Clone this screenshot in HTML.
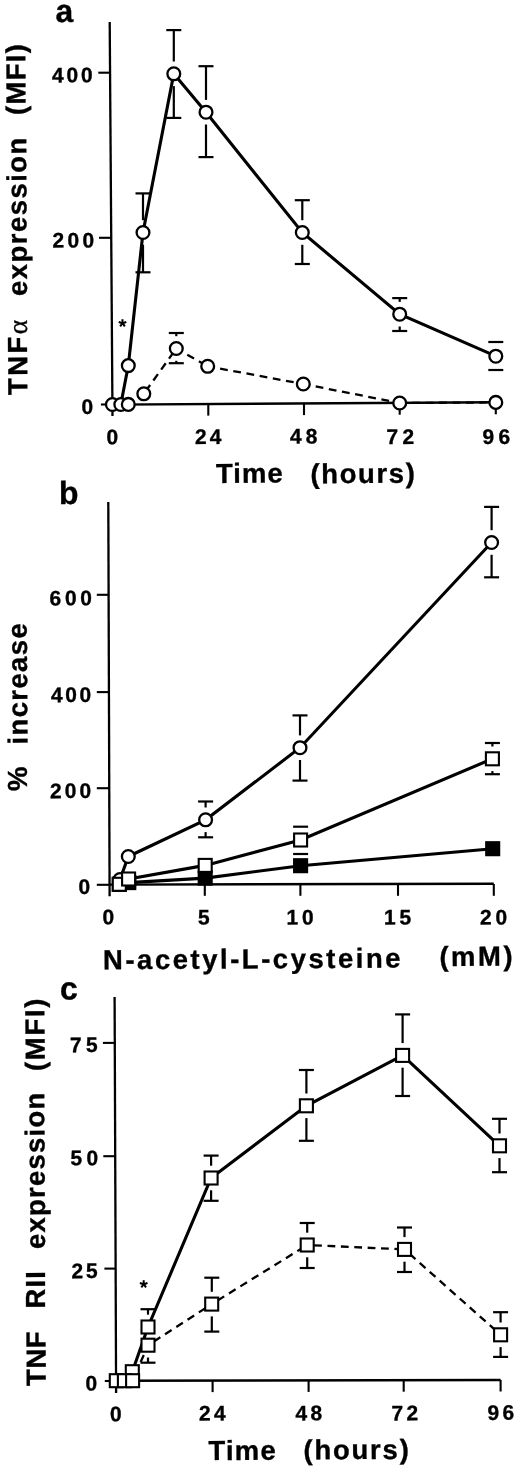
<!DOCTYPE html>
<html><head><meta charset="utf-8"><style>
html,body{margin:0;padding:0;background:#fff;}
svg{display:block;filter:grayscale(1);}
text{font-family:"Liberation Sans", sans-serif;fill:#000;stroke:#000;stroke-width:0.35px;}
</style></head><body>
<svg width="520" height="1472" viewBox="0 0 520 1472">
<rect width="520" height="1472" fill="#fff"/>
<g stroke="#000" stroke-linecap="butt" fill="none">
<text id="La" transform="translate(55.50 22.10) rotate(-0.35)" font-size="32" font-weight="bold">a</text>
<line x1="109.7" y1="22" x2="112.5" y2="416" stroke-width="2.3"/>
<line x1="112" y1="404.6" x2="496" y2="402.3" stroke-width="2.4"/>
<line x1="98.3" y1="72.7" x2="111" y2="72.7" stroke-width="2.1"/>
<line x1="99.0" y1="237.8" x2="111" y2="237.8" stroke-width="2.1"/>
<line x1="100.9" y1="404.5" x2="111" y2="404.5" stroke-width="2.1"/>
<line x1="208.3" y1="403.6" x2="208.3" y2="415.6" stroke-width="2.1"/>
<line x1="304" y1="403.1" x2="304" y2="415.1" stroke-width="2.1"/>
<line x1="399.7" y1="402.7" x2="399.7" y2="414.7" stroke-width="2.1"/>
<line x1="495.8" y1="402.3" x2="495.8" y2="414.3" stroke-width="2.1"/>
<line x1="143" y1="193.4" x2="143" y2="220.2" stroke-width="2.2"/>
<line x1="135.5" y1="193.4" x2="150.5" y2="193.4" stroke-width="2.2"/>
<line x1="143" y1="244.8" x2="143" y2="272.3" stroke-width="2.2"/>
<line x1="135.5" y1="272.3" x2="150.5" y2="272.3" stroke-width="2.2"/>
<line x1="173.8" y1="30.1" x2="173.8" y2="61.5" stroke-width="2.2"/>
<line x1="166.3" y1="30.1" x2="181.3" y2="30.1" stroke-width="2.2"/>
<line x1="173.8" y1="86.1" x2="173.8" y2="117.9" stroke-width="2.2"/>
<line x1="166.3" y1="117.9" x2="181.3" y2="117.9" stroke-width="2.2"/>
<line x1="206" y1="66.2" x2="206" y2="99.9" stroke-width="2.2"/>
<line x1="198.5" y1="66.2" x2="213.5" y2="66.2" stroke-width="2.2"/>
<line x1="206" y1="124.5" x2="206" y2="157.1" stroke-width="2.2"/>
<line x1="198.5" y1="157.1" x2="213.5" y2="157.1" stroke-width="2.2"/>
<line x1="302.3" y1="200.2" x2="302.3" y2="220.2" stroke-width="2.2"/>
<line x1="294.8" y1="200.2" x2="309.8" y2="200.2" stroke-width="2.2"/>
<line x1="302.3" y1="244.8" x2="302.3" y2="264" stroke-width="2.2"/>
<line x1="294.8" y1="264" x2="309.8" y2="264" stroke-width="2.2"/>
<line x1="399.7" y1="298.1" x2="399.7" y2="301.9" stroke-width="2.2"/>
<line x1="392.2" y1="298.1" x2="407.2" y2="298.1" stroke-width="2.2"/>
<line x1="399.7" y1="326.5" x2="399.7" y2="331" stroke-width="2.2"/>
<line x1="392.2" y1="331" x2="407.2" y2="331" stroke-width="2.2"/>
<line x1="488.3" y1="342" x2="503.3" y2="342" stroke-width="2.2"/>
<line x1="488.3" y1="370" x2="503.3" y2="370" stroke-width="2.2"/>
<line x1="176.3" y1="333" x2="176.3" y2="336.2" stroke-width="2.2"/>
<line x1="168.8" y1="333" x2="183.8" y2="333" stroke-width="2.2"/>
<line x1="176.3" y1="360.8" x2="176.3" y2="363.2" stroke-width="2.2"/>
<line x1="168.8" y1="363.2" x2="183.8" y2="363.2" stroke-width="2.2"/>
<line x1="143.8" y1="393.8" x2="176.3" y2="348.5" stroke-width="2.3" stroke-dasharray="7.8 5.6" stroke-dashoffset="10.4"/>
<line x1="176.3" y1="348.5" x2="207.7" y2="366.3" stroke-width="2.3" stroke-dasharray="7.8 5.6" stroke-dashoffset="0.8"/>
<line x1="207.7" y1="366.3" x2="303.3" y2="384" stroke-width="2.3" stroke-dasharray="7.8 5.6" stroke-dashoffset="0.8"/>
<line x1="303.3" y1="384" x2="399.7" y2="403" stroke-width="2.3" stroke-dasharray="7.8 5.6" stroke-dashoffset="0.8"/>
<line x1="399.7" y1="403" x2="495.8" y2="402.4" stroke-width="2.3" stroke-dasharray="7.8 5.6" stroke-dashoffset="0.8"/>
<polyline points="112.4,404.5 120.8,404.5 128.3,365.6 143,232.5 173.8,73.8 206,112.2 302.3,232.5 399.7,314.2 495.8,356.2" fill="none" stroke-width="3.1"/>
<circle cx="112.4" cy="404.5" r="6.4" fill="#fff" stroke-width="2.3"/>
<circle cx="120.8" cy="404.5" r="6.4" fill="#fff" stroke-width="2.3"/>
<circle cx="128.3" cy="404.4" r="6.4" fill="#fff" stroke-width="2.3"/>
<circle cx="143.8" cy="393.8" r="6.4" fill="#fff" stroke-width="2.3"/>
<circle cx="176.3" cy="348.5" r="6.4" fill="#fff" stroke-width="2.3"/>
<circle cx="207.7" cy="366.3" r="6.4" fill="#fff" stroke-width="2.3"/>
<circle cx="303.3" cy="384" r="6.4" fill="#fff" stroke-width="2.3"/>
<circle cx="399.7" cy="403" r="6.4" fill="#fff" stroke-width="2.3"/>
<circle cx="495.8" cy="402.4" r="6.4" fill="#fff" stroke-width="2.3"/>
<circle cx="128.3" cy="365.6" r="6.4" fill="#fff" stroke-width="2.3"/>
<circle cx="143" cy="232.5" r="6.4" fill="#fff" stroke-width="2.3"/>
<circle cx="173.8" cy="73.8" r="6.4" fill="#fff" stroke-width="2.3"/>
<circle cx="206" cy="112.2" r="6.4" fill="#fff" stroke-width="2.3"/>
<circle cx="302.3" cy="232.5" r="6.4" fill="#fff" stroke-width="2.3"/>
<circle cx="399.7" cy="314.2" r="6.4" fill="#fff" stroke-width="2.3"/>
<circle cx="495.8" cy="356.2" r="6.4" fill="#fff" stroke-width="2.3"/>
<line x1="122.5" y1="323.2" x2="122.5" y2="319.2" stroke-width="2.0"/>
<line x1="122.5" y1="323.2" x2="126.3" y2="321.96" stroke-width="2.0"/>
<line x1="122.5" y1="323.2" x2="124.85" y2="326.44" stroke-width="2.0"/>
<line x1="122.5" y1="323.2" x2="120.15" y2="326.44" stroke-width="2.0"/>
<line x1="122.5" y1="323.2" x2="118.7" y2="321.96" stroke-width="2.0"/>
<text id="a400" transform="translate(52.00 82.40) rotate(-0.35)" font-size="21" font-weight="bold" letter-spacing="2.800">400</text>
<text id="a200" transform="translate(52.50 247.60) rotate(-0.35)" font-size="21" font-weight="bold" letter-spacing="3.300">200</text>
<text id="ay0" transform="translate(81.50 414.10) rotate(-0.35)" font-size="21" font-weight="bold">0</text>
<text id="ax0" transform="translate(106.50 444.20) rotate(-0.35)" font-size="21" font-weight="bold">0</text>
<text id="ax24" transform="translate(195.00 444.10) rotate(-0.35)" font-size="21" font-weight="bold" letter-spacing="3.000">24</text>
<text id="ax48" transform="translate(290.00 443.60) rotate(-0.35)" font-size="21" font-weight="bold" letter-spacing="4.000">48</text>
<text id="ax72" transform="translate(386.50 444.00) rotate(-0.35)" font-size="21" font-weight="bold" letter-spacing="4.400">72</text>
<text id="ax96" transform="translate(482.50 444.00) rotate(-0.35)" font-size="21" font-weight="bold" letter-spacing="4.200">96</text>
<text id="aTime" transform="translate(216.00 482.90) rotate(-0.35)" font-size="27.5" font-weight="bold" letter-spacing="1.000">Time</text>
<text id="ahours" transform="translate(310.50 483.20) rotate(-0.35)" font-size="27.5" font-weight="bold" letter-spacing="1.600">(hours)</text>
<text id="aTNF" transform="translate(27.30 395.00) rotate(-90.35)" font-size="27.5" font-weight="bold" letter-spacing="2.401">TNF<tspan font-family="Liberation Serif" font-weight="normal">α</tspan></text>
<text id="aexp" transform="translate(27.00 296.00) rotate(-90.35)" font-size="27.5" font-weight="bold" letter-spacing="1.467">expression</text>
<text id="aMFI" transform="translate(25.60 115.00) rotate(-90.35)" font-size="27.5" font-weight="bold" letter-spacing="1.300">(MFI)</text>
<text id="Lb" transform="translate(59.00 504.00) rotate(-0.35)" font-size="32" font-weight="bold">b</text>
<line x1="108.3" y1="502.1" x2="109.6" y2="896.2" stroke-width="2.3"/>
<line x1="109" y1="884.6" x2="493.8" y2="883.8" stroke-width="2.4"/>
<line x1="96.8" y1="594.8" x2="109" y2="594.8" stroke-width="2.1"/>
<line x1="96.8" y1="692.1" x2="109" y2="692.1" stroke-width="2.1"/>
<line x1="96.8" y1="788.2" x2="109" y2="788.2" stroke-width="2.1"/>
<line x1="96.8" y1="884.8" x2="109" y2="884.8" stroke-width="2.1"/>
<line x1="204.8" y1="884" x2="204.8" y2="895.8" stroke-width="2.1"/>
<line x1="300.4" y1="884" x2="300.4" y2="895.8" stroke-width="2.1"/>
<line x1="398" y1="884" x2="398" y2="895.8" stroke-width="2.1"/>
<line x1="493.8" y1="884" x2="493.8" y2="895.8" stroke-width="2.1"/>
<line x1="205.6" y1="801.5" x2="205.6" y2="807.5" stroke-width="2.2"/>
<line x1="198.1" y1="801.5" x2="213.1" y2="801.5" stroke-width="2.2"/>
<line x1="205.6" y1="832.1" x2="205.6" y2="837.3" stroke-width="2.2"/>
<line x1="198.1" y1="837.3" x2="213.1" y2="837.3" stroke-width="2.2"/>
<line x1="300" y1="715.4" x2="300" y2="735.4" stroke-width="2.2"/>
<line x1="292.5" y1="715.4" x2="307.5" y2="715.4" stroke-width="2.2"/>
<line x1="300" y1="760.0" x2="300" y2="780.6" stroke-width="2.2"/>
<line x1="292.5" y1="780.6" x2="307.5" y2="780.6" stroke-width="2.2"/>
<line x1="491.6" y1="506.9" x2="491.6" y2="530.2" stroke-width="2.2"/>
<line x1="484.1" y1="506.9" x2="499.1" y2="506.9" stroke-width="2.2"/>
<line x1="491.6" y1="554.8" x2="491.6" y2="577.3" stroke-width="2.2"/>
<line x1="484.1" y1="577.3" x2="499.1" y2="577.3" stroke-width="2.2"/>
<line x1="293.1" y1="826.7" x2="308.1" y2="826.7" stroke-width="2.2"/>
<line x1="293.1" y1="854" x2="308.1" y2="854" stroke-width="2.2"/>
<line x1="492.4" y1="743" x2="492.4" y2="746.5" stroke-width="2.2"/>
<line x1="484.9" y1="743" x2="499.9" y2="743" stroke-width="2.2"/>
<line x1="492.4" y1="771.1" x2="492.4" y2="774.2" stroke-width="2.2"/>
<line x1="484.9" y1="774.2" x2="499.9" y2="774.2" stroke-width="2.2"/>
<polyline points="119.3,884.3 128.8,882.6 205.2,878.1 300.6,865.7 492.7,848.7" fill="none" stroke-width="3.1"/>
<polyline points="120,879.5 128.3,856.5 205.6,819.8 300,747.7 491.6,542.5" fill="none" stroke-width="3.1"/>
<polyline points="119.3,884.3 128.6,879 205.2,865.4 300.6,840 492.4,758.8" fill="none" stroke-width="3.1"/>
<rect x="112.80" y="877.80" width="13.0" height="13.0" fill="#000" stroke-width="2.1"/>
<rect x="122.30" y="876.10" width="13.0" height="13.0" fill="#000" stroke-width="2.1"/>
<rect x="198.70" y="871.60" width="13.0" height="13.0" fill="#000" stroke-width="2.1"/>
<rect x="294.10" y="859.20" width="13.0" height="13.0" fill="#000" stroke-width="2.1"/>
<rect x="486.20" y="842.20" width="13.0" height="13.0" fill="#000" stroke-width="2.1"/>
<circle cx="120" cy="879.5" r="6.4" fill="#fff" stroke-width="2.3"/>
<circle cx="128.3" cy="856.5" r="6.4" fill="#fff" stroke-width="2.3"/>
<circle cx="205.6" cy="819.8" r="6.4" fill="#fff" stroke-width="2.3"/>
<circle cx="300" cy="747.7" r="6.4" fill="#fff" stroke-width="2.3"/>
<circle cx="491.6" cy="542.5" r="6.4" fill="#fff" stroke-width="2.3"/>
<rect x="112.80" y="877.80" width="13.0" height="13.0" fill="#fff" stroke-width="2.1"/>
<rect x="122.10" y="872.50" width="13.0" height="13.0" fill="#fff" stroke-width="2.1"/>
<rect x="198.70" y="858.90" width="13.0" height="13.0" fill="#fff" stroke-width="2.1"/>
<rect x="294.10" y="833.50" width="13.0" height="13.0" fill="#fff" stroke-width="2.1"/>
<rect x="485.90" y="752.30" width="13.0" height="13.0" fill="#fff" stroke-width="2.1"/>
<text id="b600" transform="translate(49.50 605.40) rotate(-0.35)" font-size="21" font-weight="bold" letter-spacing="3.700">600</text>
<text id="b400" transform="translate(51.00 702.20) rotate(-0.35)" font-size="21" font-weight="bold" letter-spacing="2.600">400</text>
<text id="b200" transform="translate(50.00 798.20) rotate(-0.35)" font-size="21" font-weight="bold" letter-spacing="3.100">200</text>
<text id="by0" transform="translate(78.50 894.10) rotate(-0.35)" font-size="21" font-weight="bold">0</text>
<text id="bx0" transform="translate(102.50 924.20) rotate(-0.35)" font-size="21" font-weight="bold">0</text>
<text id="bx5" transform="translate(198.00 924.50) rotate(-0.35)" font-size="21" font-weight="bold">5</text>
<text id="bx10" transform="translate(286.50 924.50) rotate(-0.35)" font-size="21" font-weight="bold" letter-spacing="3.800">10</text>
<text id="bx15" transform="translate(384.00 924.50) rotate(-0.35)" font-size="21" font-weight="bold" letter-spacing="3.800">15</text>
<text id="bx20" transform="translate(480.00 924.50) rotate(-0.35)" font-size="21" font-weight="bold" letter-spacing="3.800">20</text>
<text id="bNAC" transform="translate(103.00 969.30) rotate(-0.35)" font-size="27.5" font-weight="bold" letter-spacing="2.523">N-acetyl-L-cysteine</text>
<text id="bmM" transform="translate(439.50 966.00) rotate(-0.35)" font-size="27.5" font-weight="bold" letter-spacing="2.466">(mM)</text>
<text id="bpct" transform="translate(27.10 791.00) rotate(-90.35)" font-size="27.5" font-weight="bold" letter-spacing="1.000">%</text>
<text id="binc" transform="translate(27.50 744.50) rotate(-90.35)" font-size="27.5" font-weight="bold" letter-spacing="1.371">increase</text>
<text id="Lc" transform="translate(60.00 999.40) rotate(-0.35)" font-size="32" font-weight="bold">c</text>
<line x1="114.6" y1="997" x2="116.1" y2="1393" stroke-width="2.3"/>
<line x1="116" y1="1380.8" x2="500.6" y2="1380" stroke-width="2.4"/>
<line x1="102.9" y1="1042.9" x2="115.5" y2="1042.9" stroke-width="2.1"/>
<line x1="103.3" y1="1156.2" x2="115.5" y2="1156.2" stroke-width="2.1"/>
<line x1="104.4" y1="1268.6" x2="115.5" y2="1268.6" stroke-width="2.1"/>
<line x1="104.8" y1="1381" x2="115.5" y2="1381" stroke-width="2.1"/>
<line x1="212.6" y1="1380.6" x2="212.6" y2="1392.1" stroke-width="2.1"/>
<line x1="308.6" y1="1380.4" x2="308.6" y2="1391.9" stroke-width="2.1"/>
<line x1="403.7" y1="1380.2" x2="403.7" y2="1391.7" stroke-width="2.1"/>
<line x1="500.6" y1="1380" x2="500.6" y2="1391.5" stroke-width="2.1"/>
<line x1="148" y1="1309.2" x2="148" y2="1314.7" stroke-width="2.2"/>
<line x1="140.5" y1="1309.2" x2="155.5" y2="1309.2" stroke-width="2.2"/>
<line x1="148" y1="1357.5" x2="148" y2="1362.7" stroke-width="2.2"/>
<line x1="140.5" y1="1362.7" x2="155.5" y2="1362.7" stroke-width="2.2"/>
<line x1="211.1" y1="1155.6" x2="211.1" y2="1165.7" stroke-width="2.2"/>
<line x1="203.6" y1="1155.6" x2="218.6" y2="1155.6" stroke-width="2.2"/>
<line x1="211.1" y1="1190.3" x2="211.1" y2="1200.8" stroke-width="2.2"/>
<line x1="203.6" y1="1200.8" x2="218.6" y2="1200.8" stroke-width="2.2"/>
<line x1="306.4" y1="1070" x2="306.4" y2="1093.5" stroke-width="2.2"/>
<line x1="298.9" y1="1070" x2="313.9" y2="1070" stroke-width="2.2"/>
<line x1="306.4" y1="1118.1" x2="306.4" y2="1140.8" stroke-width="2.2"/>
<line x1="298.9" y1="1140.8" x2="313.9" y2="1140.8" stroke-width="2.2"/>
<line x1="402.6" y1="1014.4" x2="402.6" y2="1043.1" stroke-width="2.2"/>
<line x1="395.1" y1="1014.4" x2="410.1" y2="1014.4" stroke-width="2.2"/>
<line x1="402.6" y1="1067.7" x2="402.6" y2="1096" stroke-width="2.2"/>
<line x1="395.1" y1="1096" x2="410.1" y2="1096" stroke-width="2.2"/>
<line x1="499.5" y1="1118.8" x2="499.5" y2="1133.5" stroke-width="2.2"/>
<line x1="492.0" y1="1118.8" x2="507.0" y2="1118.8" stroke-width="2.2"/>
<line x1="499.5" y1="1158.1" x2="499.5" y2="1172.2" stroke-width="2.2"/>
<line x1="492.0" y1="1172.2" x2="507.0" y2="1172.2" stroke-width="2.2"/>
<line x1="211.8" y1="1277.7" x2="211.8" y2="1291.8" stroke-width="2.2"/>
<line x1="204.3" y1="1277.7" x2="219.3" y2="1277.7" stroke-width="2.2"/>
<line x1="211.8" y1="1316.4" x2="211.8" y2="1331.6" stroke-width="2.2"/>
<line x1="204.3" y1="1331.6" x2="219.3" y2="1331.6" stroke-width="2.2"/>
<line x1="307.2" y1="1223" x2="307.2" y2="1232.7" stroke-width="2.2"/>
<line x1="299.7" y1="1223" x2="314.7" y2="1223" stroke-width="2.2"/>
<line x1="307.2" y1="1257.3" x2="307.2" y2="1268" stroke-width="2.2"/>
<line x1="299.7" y1="1268" x2="314.7" y2="1268" stroke-width="2.2"/>
<line x1="404.5" y1="1227.5" x2="404.5" y2="1237.1" stroke-width="2.2"/>
<line x1="397.0" y1="1227.5" x2="412.0" y2="1227.5" stroke-width="2.2"/>
<line x1="404.5" y1="1261.7" x2="404.5" y2="1272" stroke-width="2.2"/>
<line x1="397.0" y1="1272" x2="412.0" y2="1272" stroke-width="2.2"/>
<line x1="500.6" y1="1312.2" x2="500.6" y2="1322.5" stroke-width="2.2"/>
<line x1="493.1" y1="1312.2" x2="508.1" y2="1312.2" stroke-width="2.2"/>
<line x1="500.6" y1="1347.1" x2="500.6" y2="1356.9" stroke-width="2.2"/>
<line x1="493.1" y1="1356.9" x2="508.1" y2="1356.9" stroke-width="2.2"/>
<line x1="132.6" y1="1380.7" x2="148" y2="1345.2" stroke-width="2.3" stroke-dasharray="7.8 5.6" stroke-dashoffset="6.5"/>
<line x1="148" y1="1345.2" x2="211.7" y2="1304.1" stroke-width="2.3" stroke-dasharray="7.8 5.6" stroke-dashoffset="6.5"/>
<line x1="211.7" y1="1304.1" x2="307.2" y2="1245" stroke-width="2.3" stroke-dasharray="7.8 5.6" stroke-dashoffset="6.5"/>
<line x1="307.2" y1="1245" x2="404.5" y2="1249.4" stroke-width="2.3" stroke-dasharray="7.8 5.6" stroke-dashoffset="6.5"/>
<line x1="404.5" y1="1249.4" x2="500.6" y2="1334.8" stroke-width="2.3" stroke-dasharray="7.8 5.6" stroke-dashoffset="6.5"/>
<polyline points="124.4,1380.7 132.3,1371.7 148,1327 211.1,1178 306.4,1105.8 402.6,1055.4 499.5,1145.8" fill="none" stroke-width="3.1"/>
<rect x="125.80" y="1365.20" width="13.0" height="13.0" fill="#fff" stroke-width="2.1"/>
<rect x="109.80" y="1374.20" width="13.0" height="13.0" fill="#fff" stroke-width="2.1"/>
<rect x="117.90" y="1374.20" width="13.0" height="13.0" fill="#fff" stroke-width="2.1"/>
<rect x="126.10" y="1374.20" width="13.0" height="13.0" fill="#fff" stroke-width="2.1"/>
<rect x="141.50" y="1338.70" width="13.0" height="13.0" fill="#fff" stroke-width="2.1"/>
<rect x="205.20" y="1297.60" width="13.0" height="13.0" fill="#fff" stroke-width="2.1"/>
<rect x="300.70" y="1238.50" width="13.0" height="13.0" fill="#fff" stroke-width="2.1"/>
<rect x="398.00" y="1242.90" width="13.0" height="13.0" fill="#fff" stroke-width="2.1"/>
<rect x="494.10" y="1328.30" width="13.0" height="13.0" fill="#fff" stroke-width="2.1"/>
<rect x="141.50" y="1320.50" width="13.0" height="13.0" fill="#fff" stroke-width="2.1"/>
<rect x="204.60" y="1171.50" width="13.0" height="13.0" fill="#fff" stroke-width="2.1"/>
<rect x="299.90" y="1099.30" width="13.0" height="13.0" fill="#fff" stroke-width="2.1"/>
<rect x="396.10" y="1048.90" width="13.0" height="13.0" fill="#fff" stroke-width="2.1"/>
<rect x="493.00" y="1139.30" width="13.0" height="13.0" fill="#fff" stroke-width="2.1"/>
<line x1="143.7" y1="1284.2" x2="143.7" y2="1280.2" stroke-width="2.0"/>
<line x1="143.7" y1="1284.2" x2="147.5" y2="1282.96" stroke-width="2.0"/>
<line x1="143.7" y1="1284.2" x2="146.05" y2="1287.44" stroke-width="2.0"/>
<line x1="143.7" y1="1284.2" x2="141.35" y2="1287.44" stroke-width="2.0"/>
<line x1="143.7" y1="1284.2" x2="139.9" y2="1282.96" stroke-width="2.0"/>
<text id="c75" transform="translate(70.00 1052.20) rotate(-0.35)" font-size="21" font-weight="bold" letter-spacing="4.200">75</text>
<text id="c50" transform="translate(70.50 1165.30) rotate(-0.35)" font-size="21" font-weight="bold" letter-spacing="4.200">50</text>
<text id="c25" transform="translate(71.50 1278.20) rotate(-0.35)" font-size="21" font-weight="bold" letter-spacing="2.800">25</text>
<text id="cy0" transform="translate(85.50 1390.60) rotate(-0.35)" font-size="21" font-weight="bold">0</text>
<text id="cx0" transform="translate(110.00 1421.30) rotate(-0.35)" font-size="21" font-weight="bold">0</text>
<text id="cx24" transform="translate(199.00 1420.50) rotate(-0.35)" font-size="21" font-weight="bold" letter-spacing="3.400">24</text>
<text id="cx48" transform="translate(295.50 1420.40) rotate(-0.35)" font-size="21" font-weight="bold" letter-spacing="3.400">48</text>
<text id="cx72" transform="translate(391.50 1420.40) rotate(-0.35)" font-size="21" font-weight="bold" letter-spacing="3.400">72</text>
<text id="cx96" transform="translate(487.50 1419.90) rotate(-0.35)" font-size="21" font-weight="bold" letter-spacing="3.400">96</text>
<text id="cTime" transform="translate(208.50 1460.10) rotate(-0.35)" font-size="27.5" font-weight="bold" letter-spacing="1.200">Time</text>
<text id="chours" transform="translate(303.50 1459.40) rotate(-0.35)" font-size="27.5" font-weight="bold" letter-spacing="1.766">(hours)</text>
<text id="cTNF" transform="translate(45.76 1386.00) rotate(-90.35)" font-size="27.5" font-weight="bold" letter-spacing="0.600">TNF</text>
<text id="cRII" transform="translate(45.10 1308.50) rotate(-90.35)" font-size="27.5" font-weight="bold" letter-spacing="1.100">RII</text>
<text id="cexp" transform="translate(45.10 1249.00) rotate(-90.35)" font-size="27.5" font-weight="bold" letter-spacing="1.222">expression</text>
<text id="cMFI" transform="translate(44.70 1071.00) rotate(-90.35)" font-size="27.5" font-weight="bold" letter-spacing="1.700">(MFI)</text>
</g>
</svg>
</body></html>
